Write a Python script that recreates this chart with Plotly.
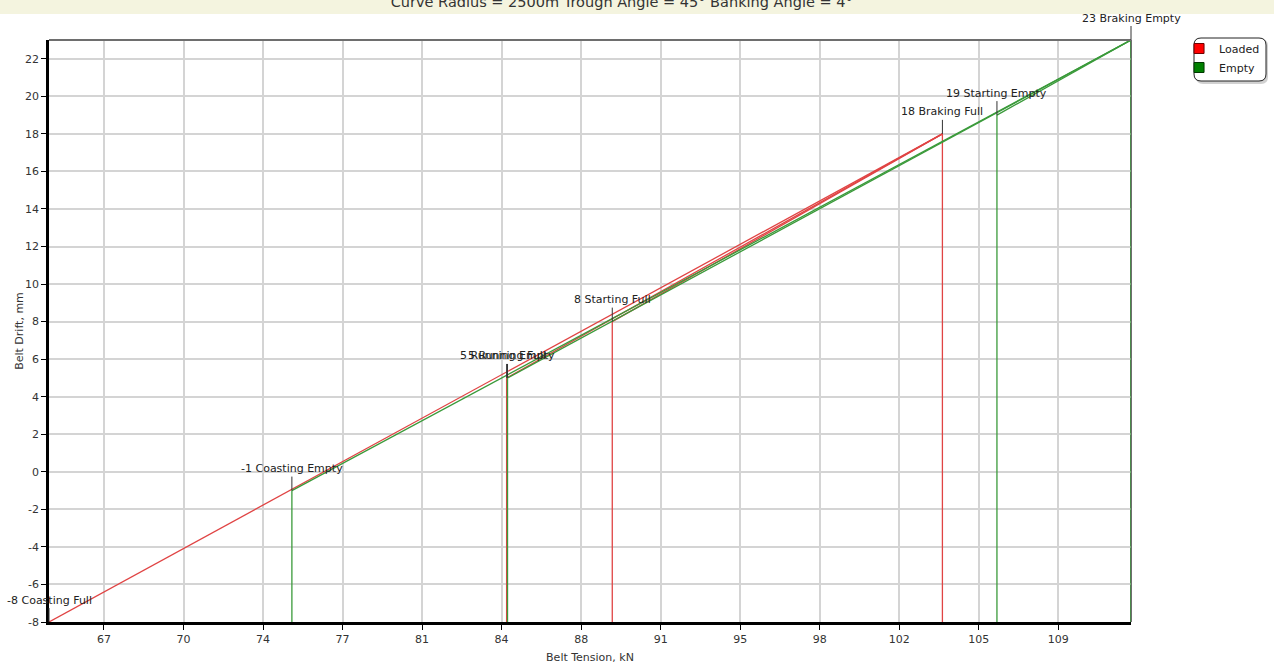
import plotly.graph_objects as go

# Operating cases along the curve
cases = ["Coasting", "Running", "Starting", "Braking"]

# Loaded belt: tension (kN) and drift (mm) per case
loaded_tension = [64.48, 84.62, 89.27, 103.8]
loaded_drift = [-8, 5, 8, 18]

# Empty belt: tension (kN) and drift (mm) per case
empty_tension = [75.17, 84.66, 106.2, 112.1]
empty_drift = [-1, 5, 19, 23]

# Drift axis labels
drift_ticks = [-8, -6, -4, -2, 0, 2, 4, 6, 8, 10, 12, 14, 16, 18, 20, 22]

title_text = "Curve Radius = 2500m Trough Angle = 45\u00b0 Banking Angle = 4\u00b0"

RED = "#e04444"
GREEN = "#3a9a3a"
FONT = "DejaVu Sans"

all_t = loaded_tension + empty_tension
all_d = loaded_drift + empty_drift
x_min, x_max = min(all_t), max(all_t)
y_min, y_max = min(all_d), max(all_d)

fig = go.Figure()

series = [
    ("Loaded", "Full", loaded_tension, loaded_drift, RED, "#ff0000", "#700000"),
    ("Empty", "Empty", empty_tension, empty_drift, GREEN, "#008000", "#003800"),
]

annotations = []
for name, tag, tx, dy, col, sym_col, sym_edge in series:
    # lines from every case to the highest case of the series
    lx, ly = [], []
    for t, d in zip(tx[:-1], dy[:-1]):
        lx += [t, tx[-1], None]
        ly += [d, dy[-1], None]
    fig.add_trace(go.Scatter(x=lx, y=ly, mode="lines", line=dict(color=col, width=1.3),
                             showlegend=False, legendgroup=name, hoverinfo="skip"))
    # drop lines from the axis floor to each case
    vx, vy = [], []
    for t, d in zip(tx, dy):
        vx += [t, t, None]
        vy += [y_min, d, None]
    fig.add_trace(go.Scatter(x=vx, y=vy, mode="lines", line=dict(color=col, width=1.3),
                             showlegend=False, legendgroup=name, hoverinfo="skip"))
    # legend entry
    fig.add_trace(go.Scatter(x=[None], y=[None], mode="markers", name=name,
                             legendgroup=name,
                             marker=dict(symbol="square", size=10, color=sym_col,
                                         line=dict(color=sym_edge, width=1))))
    for case, t, d in zip(cases, tx, dy):
        annotations.append(dict(
            x=t, y=d, xref="x", yref="y", text=f"{d} {case} {tag}",
            showarrow=True, arrowhead=0, arrowwidth=1, arrowcolor="#333333",
            ax=0, ay=-22, standoff=0,
            font=dict(family=FONT, size=11, color="#222222")))

shapes = [
    # title band across the top
    dict(type="rect", xref="paper", yref="paper", xsizemode="pixel", ysizemode="pixel",
         xanchor=0, yanchor=1, x0=-49, x1=1225, y0=26, y1=41,
         fillcolor="#f4f4df", line=dict(width=0), layer="below"),
    # top and right frame
    dict(type="line", xref="paper", yref="paper", x0=0, x1=1, y0=1, y1=1,
         line=dict(color="#6e6e6e", width=2)),
    dict(type="line", xref="paper", yref="paper", x0=1, x1=1, y0=0, y1=1,
         line=dict(color="#6e6e6e", width=2), layer="below"),
    # legend box shadow and frame
    dict(type="path", xref="paper", yref="paper", xsizemode="pixel", ysizemode="pixel",
         xanchor=1, yanchor=1,
         path="M 72,1 L 130,1 Q 137,1 137,-6 L 137,-37 Q 137,-44 130,-44 "
              "L 72,-44 Q 65,-44 65,-37 L 65,-6 Q 65,1 72,1 Z",
         fillcolor="rgba(0,0,0,0.18)", line=dict(width=0)),
    dict(type="path", xref="paper", yref="paper", xsizemode="pixel", ysizemode="pixel",
         xanchor=1, yanchor=1,
         path="M 70,2 L 128,2 Q 135,2 135,-5 L 135,-34 Q 135,-41 128,-41 "
              "L 70,-41 Q 63,-41 63,-34 L 63,-5 Q 63,2 70,2 Z",
         fillcolor="white", line=dict(color="#222222", width=1)),
]

fig.update_layout(
    width=1274, height=664,
    margin=dict(l=49, r=143, t=40, b=42, autoexpand=False),
    paper_bgcolor="white", plot_bgcolor="white",
    font=dict(family=FONT, size=11, color="#333333"),
    title=dict(text=title_text, x=0.488, xref="container", y=1 - 2 / 664, yref="container",
               yanchor="middle", xanchor="center",
               font=dict(family=FONT, size=14.5, color="#333333")),
    xaxis=dict(range=[x_min, x_max], tickmode="linear", tick0=66.9, dtick=3.5,
               tickformat=".0f", showgrid=True, gridcolor="#d4d4d4", gridwidth=1.5,
               zeroline=False, showline=True, linecolor="black", linewidth=2.5,
               ticks="outside", ticklen=5, tickcolor="black",
               tickfont=dict(family=FONT, size=11, color="#333333"),
               title=dict(text="Belt Tension, kN", standoff=12,
                          font=dict(family=FONT, size=11, color="#333333"))),
    yaxis=dict(range=[y_min, y_max], tickmode="array", tickvals=drift_ticks,
               ticktext=[str(v) for v in drift_ticks],
               showgrid=True, gridcolor="#d4d4d4", gridwidth=1.5,
               zeroline=False, showline=True, linecolor="black", linewidth=2.5,
               ticks="outside", ticklen=5, tickcolor="black",
               tickfont=dict(family=FONT, size=11, color="#333333"),
               title=dict(text="Belt Drift, mm", standoff=0,
                          font=dict(family=FONT, size=11, color="#333333"))),
    legend=dict(x=1.0444, y=1.0103, xanchor="left", yanchor="top", xref="paper",
                bgcolor="rgba(0,0,0,0)", borderwidth=0, tracegroupgap=0,
                font=dict(family=FONT, size=11, color="#222222")),
    shapes=shapes,
    annotations=annotations,
    showlegend=True,
)

fig.write_html("out.html")
